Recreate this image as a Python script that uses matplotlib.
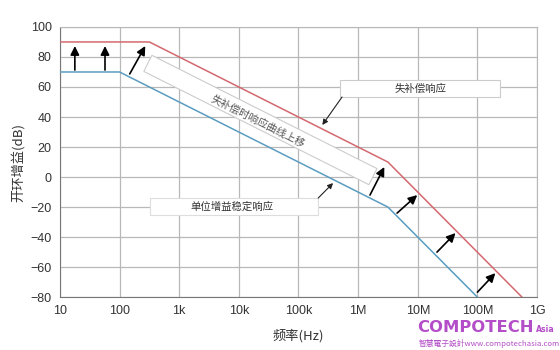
import numpy as np
import matplotlib
matplotlib.use('Agg')
import matplotlib.pyplot as plt
from matplotlib.patches import Rectangle, Polygon
from matplotlib.transforms import IdentityTransform

plt.rcParams['font.family'] = ['Liberation Sans', 'Noto Sans CJK SC', 'DejaVu Sans']

# 频率 / 增益数据
freq_red = [10, 316, 3.16e6, 5.6e8]
gain_red = [90, 90, 10, -80]
freq_blue = [10, 100, 3.16e6, 1e8]
gain_blue = [70, 70, -20, -80]

xticks = [10, 100, 1e3, 1e4, 1e5, 1e6, 1e7, 1e8, 1e9]
xtick_labels = ['10', '100', '1k', '10k', '100k', '1M', '10M', '100M', '1G']
yticks = [-80, -60, -40, -20, 0, 20, 40, 60, 80, 100]

# 粗箭头: 起点 / 终点
arrow_f0 = [17.8, 57, 148, 1.58e6, 4.5e6, 2.1e7, 1.0e8]
arrow_g0 = [71.3, 71.3, 68.7, -12, -24, -50, -76.7]
arrow_f1 = [17.8, 57, 270, 2.75e6, 9.8e6, 4.3e7, 2.0e8]
arrow_g1 = [87.3, 87.3, 87.3, 6.7, -12, -37.3, -64]

CJK = ['Noto Sans CJK SC', 'DejaVu Sans']

fig = plt.figure(figsize=(5.6, 3.5), dpi=100)
ax = fig.add_axes([0.107, 0.151, 0.852, 0.772])

ax.set_xscale('log')
ax.set_xlim(10, 1e9)
ax.set_ylim(-80, 100)
ax.set_xticks(xticks)
ax.set_xticklabels(xtick_labels)
ax.set_yticks(yticks)
ax.minorticks_off()
ax.tick_params(length=0, labelsize=9, colors='#333333', pad=6)
ax.grid(True, color='#b8b8b8', lw=0.9)
for s in ['top', 'right']:
    ax.spines[s].set_color('#b8b8b8')
for s in ['left', 'bottom']:
    ax.spines[s].set_color('#777777')

ax.plot(freq_red, gain_red, color='#d4686f', lw=1.1, zorder=3)
ax.plot(freq_blue, gain_blue, color='#5a9dc0', lw=1.1, zorder=3)

for f0, g0, f1, g1 in zip(arrow_f0, arrow_g0, arrow_f1, arrow_g1):
    ax.annotate('', xy=(f1, g1), xytext=(f0, g0),
                arrowprops=dict(arrowstyle='-|>', color='black', lw=1.2,
                                mutation_scale=13, shrinkA=0, shrinkB=0), zorder=5)

# 倾斜文本框 (在像素坐标中画旋转矩形)
fig.canvas.draw()
p0 = ax.transData.transform((1e3, 50))
p1 = ax.transData.transform((1e5, 10))
ang = np.arctan2(p1[1] - p0[1], p1[0] - p0[0])
c = ax.transData.transform((2.3e4, 38))
u = np.array([np.cos(ang), np.sin(ang)])
v = np.array([-np.sin(ang), np.cos(ang)])
half_len, half_h = 126, 9
corners = [c - u * half_len - v * half_h, c + u * half_len - v * half_h,
           c + u * half_len + v * half_h, c - u * half_len + v * half_h]
ax.add_patch(Polygon(corners, closed=True, fc='white', ec='#cccccc', lw=0.8,
                     transform=IdentityTransform(), clip_on=False, zorder=4))
ax.text(2.1e4, 37, '失补偿时响应曲线上移', rotation=np.degrees(ang),
        rotation_mode='anchor', ha='center', va='center', fontsize=7.5,
        color='#555555', family=CJK, zorder=6)

# 标注框
ax.add_patch(Rectangle((10**5.70, 53.3), 10**8.38 - 10**5.70, 11.4,
                       fc='white', ec='#cccccc', lw=0.8, zorder=4))
ax.text(10**7.04, 59, '失补偿响应', ha='center', va='center', fontsize=7.5,
        color='#333333', family=CJK, zorder=5)
ax.annotate('', xy=(10**5.40, 34.7), xytext=(10**5.73, 53.3),
            arrowprops=dict(arrowstyle='-|>', color='#222222', lw=0.8,
                            mutation_scale=8, shrinkA=0, shrinkB=0), zorder=5)

ax.add_patch(Rectangle((10**2.51, -25.3), 10**5.33 - 10**2.51, 11.3,
                       fc='white', ec='#dddddd', lw=0.8, zorder=4))
ax.text(10**3.88, -19.8, '单位增益稳定响应', ha='center', va='center', fontsize=7.5,
        color='#333333', family=CJK, zorder=5)
ax.annotate('', xy=(10**5.58, -4), xytext=(10**5.33, -14),
            arrowprops=dict(arrowstyle='-|>', color='#222222', lw=0.8,
                            mutation_scale=8, shrinkA=0, shrinkB=0), zorder=5)

ax.set_xlabel('频率(Hz)', fontsize=9.5, color='#333333', labelpad=8, family=CJK)
ax.set_ylabel('开环增益(dB)', fontsize=9.5, color='#333333', labelpad=4, family=CJK)

# 水印
fig.text(0.745, 0.05, 'COMPOTECH', fontsize=11.8, fontweight='bold', color='#b44dc8',
         family='DejaVu Sans', zorder=10)
fig.text(0.957, 0.05, 'Asia', fontsize=5.6, fontweight='bold', color='#b44dc8',
         family='DejaVu Sans', zorder=10)
fig.text(0.748, 0.012, '智慧電子設計www.compotechasia.com', fontsize=5.6, color='#b44dc8',
         family=['Noto Sans CJK TC', 'DejaVu Sans'], zorder=10)

fig.savefig('out.png', dpi=100)
